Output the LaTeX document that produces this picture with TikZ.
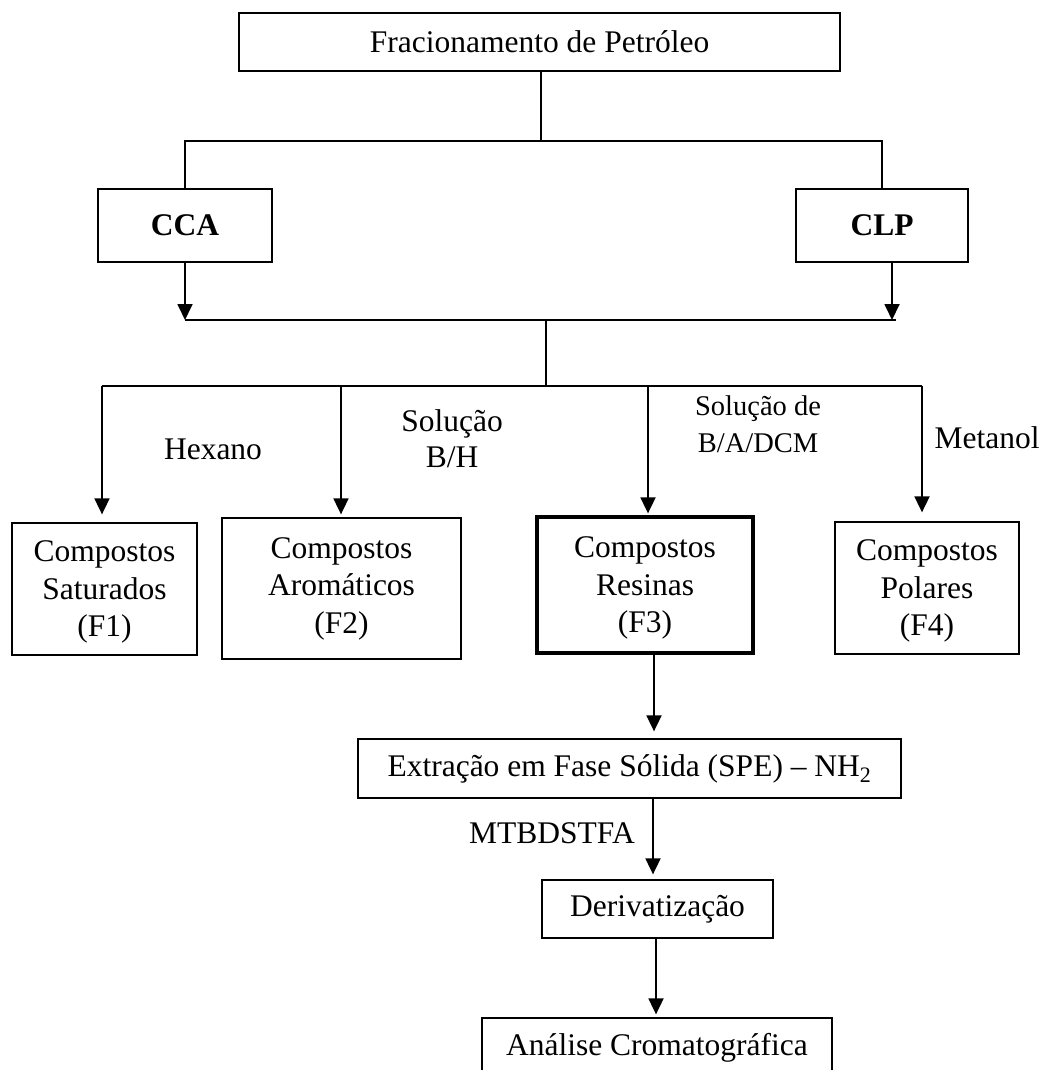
\documentclass[tikz,border=0pt]{standalone}
\usepackage{fontspec}
\setmainfont{Liberation Serif}
\usetikzlibrary{arrows.meta}
\begin{document}
\begin{tikzpicture}[x=1pt,y=-1pt,
  box/.style={draw, line width=1.3pt, inner sep=0pt, align=center,
    font=\fontsize{31.5}{37.5}\selectfont},
  thin/.style={line width=1.3pt},
  arr/.style={line width=1.8pt, -{Triangle[length=16pt,width=15pt]}},
  lbl/.style={inner sep=0pt, align=center, font=\fontsize{31.5}{36}\selectfont},
  lblsmall/.style={inner sep=0pt, align=center, font=\fontsize{28.5}{37}\selectfont}]
\useasboundingbox (0,0) rectangle (1051,1070);

% boxes
\node[box, minimum width=601pt, minimum height=58pt] (top) at (539.5,42) {Fracionamento de Petróleo};
\node[box, minimum width=174pt, minimum height=73pt, font=\fontsize{31.5}{37.5}\selectfont\bfseries] (cca) at (185,225.5) {CCA};
\node[box, minimum width=172pt, minimum height=73pt, font=\fontsize{31.5}{37.5}\selectfont\bfseries] (clp) at (882,225.5) {CLP};
\node[box, text depth=0pt, minimum width=185pt, minimum height=132pt] (f1) at (104.5,589) {Compostos\\Saturados\\(F1)};
\node[box, minimum width=239pt, minimum height=141pt] (f2) at (341.5,588.5) {Compostos\\Aromáticos\\(F2)};
\node[box, text depth=0pt, line width=3.3pt, minimum width=216pt, minimum height=136pt] (f3) at (645,585) {Compostos\\Resinas\\(F3)};
\node[box, text depth=0pt, minimum width=184pt, minimum height=132pt] (f4) at (927,588) {Compostos\\Polares\\(F4)};
\node[box, minimum width=543pt, minimum height=59pt] (spe) at (629.5,768.5) {Extração em Fase Sólida (SPE) – NH\textsubscript{2}};
\node[box, minimum width=231pt, minimum height=58pt] (der) at (657.5,909) {Derivatização};
\node[box, minimum width=350pt, minimum height=59pt] (ana) at (657,1047.5) {Análise Cromatográfica};

% junction coordinates
\coordinate (jtop) at (541,141);
\coordinate (m1) at (185,320);
\coordinate (m2) at (896,320);
\coordinate (m2a) at (892,320);
\coordinate (m3) at (546,320);
\coordinate (b0) at (546,386);
\coordinate (b1) at (102,386);
\coordinate (b2) at (341,386);
\coordinate (b3) at (648,386);
\coordinate (b4) at (922,386);
\coordinate (c1) at (654,0);
\coordinate (c2) at (653,0);
\coordinate (c3) at (656,0);

% top tree
\draw[thin] (top.south -| jtop) -- (jtop);
\draw[thin] (cca.north) |- (jtop) -| (clp.north);
\draw[arr] (cca.south) -- (m1);
\draw[arr] (clp.south -| m2a) -- (m2a);
\draw[thin] (m1) -- (m2);
\draw[thin] (m3) -- (b0);
\draw[thin] (b1) -- (b4);

% fraction arrows
\draw[arr, shorten >=8pt] (b1) -- (b1 |- f1.north);
\draw[arr, shorten >=3pt] (b2) -- (b2 |- f2.north);
\draw[arr, shorten >=2pt] (b3) -- (b3 |- f3.north);
\draw[arr, shorten >=9pt] (b4) -- (b4 |- f4.north);

% lower chain
\draw[arr, shorten >=7pt] (f3.south -| c1) -- (spe.north -| c1);
\draw[arr, shorten >=5pt] (spe.south -| c2) -- (der.north -| c2);
\draw[arr, shorten >=3pt] (der.south -| c3) -- (ana.north -| c3);

% labels
\node[lbl, anchor=base] (lhex) at (213,459) {Hexano};
\node[lbl, anchor=base] (lbh) at (452,467) {Solução\\B/H};
\node[lblsmall, anchor=base] (lbad) at (758,452) {Solução de\\B/A/DCM};
\node[lbl, anchor=base] (lmet) at (987,448) {Metanol};
\node[lbl, anchor=base] (lmtb) at (552,843) {MTBDSTFA};
\end{tikzpicture}
\end{document}
